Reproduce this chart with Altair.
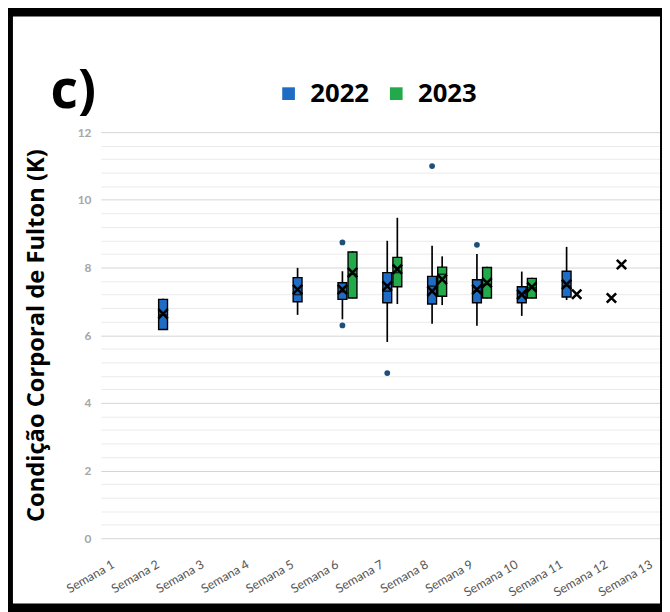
import altair as alt
import pandas as pd

weeks = ["Semana 1", "Semana 2", "Semana 3", "Semana 4", "Semana 5", "Semana 6", "Semana 7",
         "Semana 8", "Semana 9", "Semana 10", "Semana 11", "Semana 12", "Semana 13"]
years = ["2022", "2023"]
colors = ["#1f6cc4", "#22aa4a"]

# 2022 boxes
b22_week = ["Semana 2", "Semana 5", "Semana 6", "Semana 7", "Semana 8", "Semana 9", "Semana 10", "Semana 11"]
b22_min = [6.15, 6.60, 6.47, 5.80, 6.34, 6.28, 6.57, 7.04]
b22_q1 = [6.17, 6.99, 7.06, 6.96, 6.92, 6.96, 6.96, 7.13]
b22_med = [6.60, 7.20, 7.28, 7.30, 7.45, 7.30, 7.23, 7.45]
b22_q3 = [7.06, 7.70, 7.55, 7.85, 7.74, 7.64, 7.43, 7.89]
b22_max = [7.08, 7.99, 7.89, 8.79, 8.64, 8.40, 7.88, 8.61]

# 2023 boxes
b23_week = ["Semana 6", "Semana 7", "Semana 8", "Semana 9", "Semana 10"]
b23_min = [7.09, 6.92, 6.89, 7.09, 7.09]
b23_q1 = [7.10, 7.43, 7.15, 7.10, 7.10]
b23_med = [7.80, 7.85, 7.80, 7.50, 7.40]
b23_q3 = [8.46, 8.30, 8.01, 8.00, 7.68]
b23_max = [8.48, 9.47, 8.33, 8.02, 7.70]

# means (X markers)
m22_week = ["Semana 2", "Semana 5", "Semana 6", "Semana 7", "Semana 8", "Semana 9", "Semana 10", "Semana 11", "Semana 12"]
m22 = [6.63, 7.35, 7.35, 7.45, 7.30, 7.35, 7.20, 7.50, 7.10]
m23_week = ["Semana 6", "Semana 7", "Semana 8", "Semana 9", "Semana 10", "Semana 11", "Semana 12"]
m23 = [7.85, 7.95, 7.65, 7.55, 7.42, 7.21, 8.09]

# outliers (2022)
o22_week = ["Semana 6", "Semana 6", "Semana 7", "Semana 8", "Semana 9"]
o22 = [8.74, 6.29, 4.88, 11.0, 8.67]

grid_vals = [0, 0.4, 0.8, 1.2, 1.6, 2, 2.4, 2.8, 3.2, 3.6, 4, 4.4, 4.8, 5.2, 5.6, 6,
             6.4, 6.8, 7.2, 7.6, 8, 8.4, 8.8, 9.2, 9.6, 10, 10.4, 10.8, 11.2, 11.6, 12]

panel_label = "c)"

boxes = pd.concat([
    pd.DataFrame({"week": b22_week, "year": "2022", "min": b22_min, "q1": b22_q1,
                  "med": b22_med, "q3": b22_q3, "max": b22_max}),
    pd.DataFrame({"week": b23_week, "year": "2023", "min": b23_min, "q1": b23_q1,
                  "med": b23_med, "q3": b23_q3, "max": b23_max}),
], ignore_index=True)
means = pd.concat([
    pd.DataFrame({"week": m22_week, "year": "2022", "mean": m22}),
    pd.DataFrame({"week": m23_week, "year": "2023", "mean": m23}),
], ignore_index=True)
outl = pd.DataFrame({"week": o22_week, "year": "2022", "v": o22})

xaxis = alt.Axis(labelAngle=-30, labelAlign="right", labelBaseline="top", labelPadding=20,
                 labelOffset=-13,
                 labelFont="Lato", labelFontSize=12.5, labelColor="#555555",
                 ticks=False, domain=False, grid=False, title=None, labelOverlap=False)
xscale = alt.Scale(domain=weeks, range=[-1, 589], paddingInner=0.55, paddingOuter=0.275)
yaxis = alt.Axis(values=grid_vals,
                 labelExpr="datum.value % 2 === 0 ? format(datum.value, 'd') : ''",
                 grid=True,
                 gridColor={"condition": {"test": "datum.value % 2 === 0", "value": "#d4d4d4"},
                            "value": "#ebebeb"},
                 ticks=False, domain=False, labelFont="Lato", labelFontSize=12,
                 labelFontWeight="bold", labelColor="#a6a6a6", labelPadding=11,
                 labelOverlap=False,
                 title="Condição Corporal de Fulton (K)", titleFont="Open Sans",
                 titleFontSize=24, titleFontWeight="bold", titleColor="black",
                 titleX=-66, titleY=205.5, titleAngle=270, titleAlign="center",
                 titleBaseline="middle")
yscale = alt.Scale(domain=[0, 12], nice=False)
xoff = alt.XOffset("year:N", scale=alt.Scale(domain=years, paddingInner=0, paddingOuter=0))


def X():
    return alt.X("week:N", scale=xscale, axis=xaxis, title=None)


def Y(f):
    return alt.Y(f, type="quantitative", scale=yscale, axis=yaxis, title="Condição Corporal de Fulton (K)")


whisk = alt.Chart(boxes).mark_rule(color="black", strokeWidth=1.7).encode(
    x=X(), xOffset=xoff, y=Y("min"), y2="max")

box = alt.Chart(boxes).mark_bar(size=9, stroke="black", strokeWidth=1.4).encode(
    x=X(), xOffset=xoff, y=Y("q1"), y2="q3",
    color=alt.Color("year:N", scale=alt.Scale(domain=years, range=colors),
                    legend=alt.Legend(orient="none", legendX=176, legendY=-52,
                                      direction="horizontal", title=None,
                                      symbolType="square", symbolSize=165,
                                      symbolStrokeWidth=0, labelFont="Open Sans",
                                      labelFontSize=26, labelFontWeight="bold",
                                      labelColor="black", columnPadding=14,
                                      labelOffset=9, padding=0)))

med = alt.Chart(boxes).mark_tick(color="black", thickness=1.6, size=9).encode(
    x=X(), xOffset=xoff, y=Y("med"))

mean = alt.Chart(means).mark_point(shape="M-1,-1L1,1M-1,1L1,-1", size=90, stroke="black",
                                   strokeWidth=2.6, filled=False, opacity=1).encode(
    x=X(), xOffset=xoff, y=Y("mean"))

dots = alt.Chart(outl).mark_circle(size=34, color="#1f4e79", opacity=1).encode(
    x=X(), xOffset=xoff, y=Y("v"))

label = alt.Chart(pd.DataFrame({"t": [panel_label]})).mark_text(
    font="Open Sans", fontSize=54, fontWeight="bold", color="black",
    align="left", baseline="alphabetic").encode(
    text="t:N", x=alt.value(-52), y=alt.value(-24))

frame = alt.Chart(pd.DataFrame({"f": [0]})).mark_rect(
    fillOpacity=0, stroke="black", strokeWidth=10).encode(
    x=alt.value(-95), x2=alt.value(570), y=alt.value(-122), y2=alt.value(482))

chart = alt.layer(whisk, box, med, mean, dots, label, frame).properties(
    width=556, height=411,
    autosize=alt.AutoSizeParams(type="none"),
    padding={"left": 95, "top": 122, "right": 11, "bottom": 71},
).configure_view(stroke=None)

chart.save("out.html", embed_options={"renderer": "svg", "actions": False})
